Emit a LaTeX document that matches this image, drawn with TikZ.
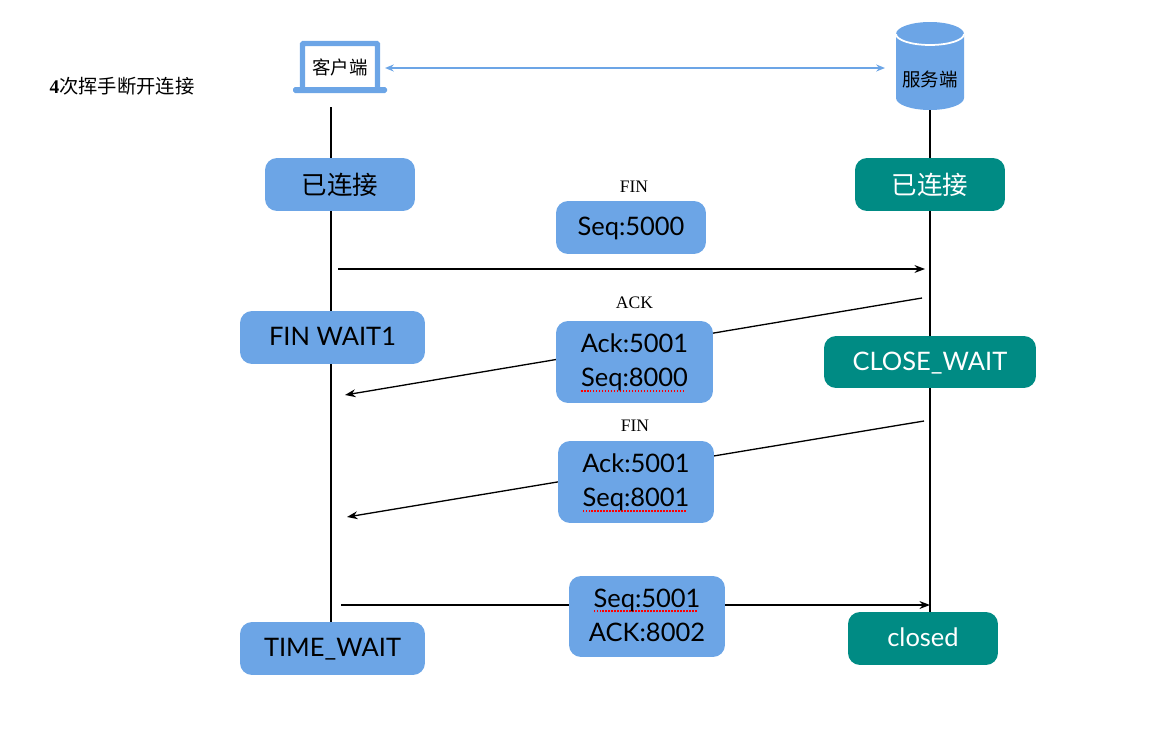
\documentclass[tikz,border=0pt]{standalone}
\usepackage{fontspec}
\setmainfont{Lato}
\newfontfamily\cjk{Noto Sans CJK SC}
\newfontfamily\timesfont{Liberation Serif}
\definecolor{BOXblue}{HTML}{6CA5E6}
\definecolor{BOXteal}{HTML}{008B84}
\usetikzlibrary{calc, arrows.meta, positioning}
\newcommand{\spellmark}[1]{\setbox0\hbox{#1}\leavevmode\rlap{\color{red}\raisebox{-2.9pt}{\hbox to \wd0{\leaders\hbox{\rule{0.85pt}{1.15pt}\kern0.85pt}\hfill}}}#1}
\tikzset{
  statebox/.style={rounded corners=0.24cm, inner sep=0pt, align=center, text=black,
    font=\fontsize{14.5pt}{19.5pt}\selectfont, text height=12.6pt, text depth=3pt},
  bluebox/.style={statebox, fill=BOXblue},
  tealbox/.style={statebox, fill=BOXteal, text=white},
  twoline/.style={text height=31.4pt, text depth=3pt},
  cjkline/.style={text height=14.6pt, text depth=3pt},
  msglabel/.style={font=\timesfont\fontsize{10pt}{12pt}\selectfont},
  msgarrow/.style={-{Stealth[length=6pt,width=4.5pt]}, line width=0.75pt},
  lifeline/.style={line width=1.1pt}
}
\begin{document}
\begin{tikzpicture}[x=0.02cm, y=-0.02cm]
\useasboundingbox (0,0) rectangle (1171,730);
% Title
\node[font=\timesfont\fontsize{11pt}{13pt}\selectfont, inner sep=0pt] (title) at (122,86) {\textbf{4}{\cjk 次挥手断开连接}};

% Client laptop
\draw[BOXblue, line width=3pt, rounded corners=0.5pt] (302.5,88) -- (302.5,43.5) -- (377.5,43.5) -- (377.5,88);
\fill[BOXblue, rounded corners=1pt] (293,87) rectangle (387,93);
\node[font=\cjk\fontsize{10.5pt}{12pt}\selectfont, inner sep=0pt] (client) at (340,67) {客户端};

% Server database
\fill[BOXblue] (896,34) -- (896,98) arc[start angle=180, end angle=360, x radius=34, y radius=-12] -- (964,34) arc[start angle=0, end angle=180, x radius=34, y radius=-12] -- cycle;
\draw[white, line width=1pt] (896,34) arc[start angle=180, end angle=360, x radius=34, y radius=-11];
\node[font=\cjk\fontsize{10.5pt}{12pt}\selectfont, inner sep=0pt] (server) at (930,79) {服务端};

\draw[{Stealth[length=5pt,width=4pt]}-{Stealth[length=5pt,width=4pt]}, BOXblue, line width=0.9pt] (385,68) -- (885,68);

% Lifelines
\coordinate (clienttop) at (331,107);
\coordinate (clientend) at (331,625);
\coordinate (servertop) at (930,110);
\coordinate (serverend) at (930,615);
\draw[lifeline] (clienttop) -- (clientend);
\draw[lifeline] (servertop) -- (serverend);

% Messages
\coordinate (fin1from) at (338,269);
\coordinate (fin1to) at (925,269);
\coordinate (ackfrom) at (922,298);
\coordinate (ackto) at (345,395);
\coordinate (fin2from) at (924,421);
\coordinate (fin2to) at (347,517);
\coordinate (lastfrom) at (341,605);
\coordinate (lastto) at (930,605);
\draw[msgarrow] (fin1from) -- (fin1to);
\draw[msgarrow] (ackfrom) -- (ackto);
\draw[msgarrow] (fin2from) -- (fin2to);
\draw[msgarrow] (lastfrom) -- (lastto);

% Client states
\node[bluebox, cjkline, minimum width=3cm, minimum height=1.06cm] (cdone) at (340,184.5) {\cjk 已连接};
\node[bluebox, minimum width=3.7cm, minimum height=1.06cm] (cwait1) at (332.5,337.5) {FIN WAIT1};
\node[bluebox, minimum width=3.7cm, minimum height=1.06cm] (ctime) at (332.5,648.5) {TIME\_WAIT};

% Server states
\node[tealbox, cjkline, minimum width=3cm, minimum height=1.06cm] (sdone) at (930,184.5) {\cjk 已连接};
\node[tealbox, minimum width=4.24cm, minimum height=1.04cm] (sclose) at (930,362) {CLOSE\_WAIT};
\node[tealbox, minimum width=3cm, minimum height=1.06cm] (sclosed) at (923,638.5) {closed};

% Message boxes
\node[bluebox, minimum width=3cm, minimum height=1.06cm] (seqa) at (631,227.5) {Seq:5000};
\node[bluebox, twoline, minimum width=3.14cm, minimum height=1.64cm] (seqb) at (634.5,362) {Ack:5001\\\spellmark{Seq:8000}};
\node[bluebox, twoline, minimum width=3.12cm, minimum height=1.64cm] (seqc) at (636,482) {Ack:5001\\\spellmark{Seq:8001}};
\node[bluebox, twoline, minimum width=3.12cm, minimum height=1.62cm] (seqd) at (647,616.5) {\spellmark{Seq:5001}\\ACK:8002};

% Labels
\node[msglabel] (labfin) at (634,187) {FIN};
\node[msglabel] (laback) at (634.5,303) {ACK};
\node[msglabel] (labfintwo) at (635,426) {FIN};
\end{tikzpicture}
\end{document}
